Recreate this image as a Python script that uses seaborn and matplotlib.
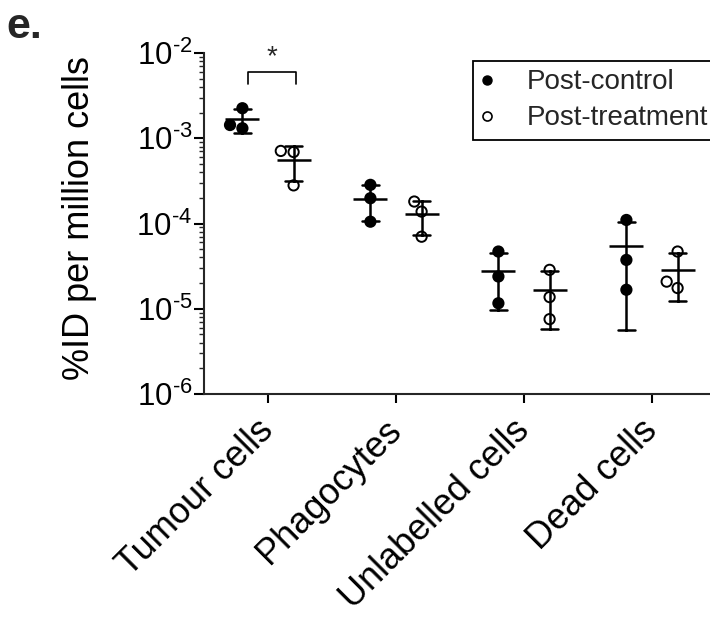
import matplotlib
matplotlib.use("Agg")
import matplotlib.pyplot as plt
from matplotlib.lines import Line2D
import matplotlib.ticker as mticker
import numpy as np
import pandas as pd
import seaborn as sns

# ---- data ----
categories = ["Tumour cells", "Phagocytes", "Unlabelled cells", "Dead cells"]
groups = ["Post-control", "Post-treatment"]
control_values = [
    [2.25e-3, 1.31e-3, 1.43e-3],
    [2.84e-4, 1.98e-4, 1.05e-4],
    [4.69e-5, 2.39e-5, 1.16e-5],
    [1.10e-4, 3.74e-5, 1.67e-5],
]
treatment_values = [
    [7.1e-4, 6.9e-4, 2.8e-4],
    [1.81e-4, 1.38e-4, 7.0e-5],
    [2.86e-5, 1.37e-5, 7.55e-6],
    [4.69e-5, 1.75e-5, 2.08e-5],
]
ytick_values = [1e-6, 1e-5, 1e-4, 1e-3, 1e-2]
ytick_labels = [r"$10^{\text{-6}}$", r"$10^{\text{-5}}$", r"$10^{\text{-4}}$",
                r"$10^{\text{-3}}$", r"$10^{\text{-2}}$"]
ylabel = "%ID per million cells"
panel_label = "e."

rows = []
for ci, cat in enumerate(categories):
    for v in control_values[ci]:
        rows.append((cat, groups[0], v))
    for v in treatment_values[ci]:
        rows.append((cat, groups[1], v))
df = pd.DataFrame(rows, columns=["cell", "group", "value"])

# ---- style ----
sns.set_theme(style="ticks")
plt.rcParams["font.family"] = ["Liberation Sans", "DejaVu Sans"]
plt.rcParams["mathtext.fontset"] = "custom"
plt.rcParams["mathtext.rm"] = "Liberation Sans"
plt.rcParams["mathtext.it"] = "Liberation Sans:italic"
plt.rcParams["mathtext.bf"] = "Liberation Sans:bold"
plt.rcParams["axes.linewidth"] = 1.5

W, H = 710, 624
AX_L, AX_R, AX_T, AX_B = 204, 716, 53, 394
fig = plt.figure(figsize=(W / 100, H / 100), dpi=100)
ax = fig.add_axes([AX_L / W, (H - AX_B) / H, (AX_R - AX_L) / W, (AX_B - AX_T) / H])

# mean +/- SD (computed on linear values), then log axis
sns.pointplot(
    data=df, x="cell", y="value", hue="group", order=categories,
    hue_order=groups, dodge=0.4, estimator="mean", errorbar="sd",
    palette={groups[0]: "black", groups[1]: "black"}, markers="_",
    markersize=25, markeredgewidth=1.8, linestyle="none", capsize=0.13,
    err_kws={"linewidth": 1.8}, ax=ax, legend=False,
)
ax.set_yscale("log")
sns.swarmplot(
    data=df, x="cell", y="value", hue="group", order=categories,
    hue_order=groups, dodge=True, palette={groups[0]: "black", groups[1]: "white"},
    size=7.4, edgecolor="black", linewidth=1.4, ax=ax, legend=False,
)
for c in ax.collections:
    c.set_zorder(3)
for ln in ax.lines:
    ln.set_zorder(5)
    ln.set_clip_on(False)

ax.set_ylim(1e-6, 1e-2)
ax.set_xlim((AX_L - 268) / 128, (AX_R - 268) / 128)
ax.yaxis.set_major_locator(mticker.FixedLocator(ytick_values))
ax.yaxis.set_major_formatter(mticker.FixedFormatter(ytick_labels))
ax.yaxis.set_minor_locator(mticker.LogLocator(base=10, subs=np.arange(2, 10), numticks=20))
ax.yaxis.set_minor_formatter(mticker.NullFormatter())
ax.tick_params(axis="y", which="major", length=7.5, width=1.5, labelsize=22.5, pad=1, colors="black")
ax.tick_params(axis="y", which="minor", length=3.5, width=1.0)
ax.tick_params(axis="x", which="major", length=6.5, width=1.5, labelsize=26, pad=16, colors="black")
ax.set_xticks(range(len(categories)))
ax.set_xticklabels(categories, rotation=45, ha="right", va="center", rotation_mode="anchor")
ax.set_xlabel("")
ax.set_ylabel(ylabel, fontsize=26, color="black", ha="center", va="center")
ax.yaxis.set_label_coords((80 - AX_L) / (AX_R - AX_L), (AX_B - 218) / (AX_B - AX_T))
for s in ["top", "right"]:
    ax.spines[s].set_visible(False)

# significance bracket
bx0, bx1 = 0 - 0.16, 0 + 0.22
ytop, yleg = 6.0e-3, 4.3e-3
ax.plot([bx0, bx0, bx1, bx1], [yleg, ytop, ytop, yleg], color="black", lw=1.2, clip_on=False)
ax.text((bx0 + bx1) / 2, ytop * 1.05, "*", ha="center", va="bottom", fontsize=20)

# legend
handles = [
    Line2D([], [], marker="o", linestyle="none", markerfacecolor="black",
           markeredgecolor="black", markersize=6.5),
    Line2D([], [], marker="o", linestyle="none", markerfacecolor="white",
           markeredgecolor="black", markeredgewidth=1.2, markersize=6.5),
]
leg = fig.legend(handles, groups, loc="upper left", bbox_to_anchor=(473 / W, 1 - 61 / H),
                 bbox_transform=fig.transFigure, fontsize=20, frameon=True, fancybox=False,
                 framealpha=1, edgecolor="black", borderaxespad=0, borderpad=0.3,
                 handlelength=0.39, handletextpad=1.25, labelspacing=0.36)
leg.get_frame().set_linewidth(1.3)

fig.text(6 / W, 1 - 38 / H, panel_label, fontsize=31, fontweight="bold", va="baseline", ha="left")

fig.savefig("out.png", dpi=100)
